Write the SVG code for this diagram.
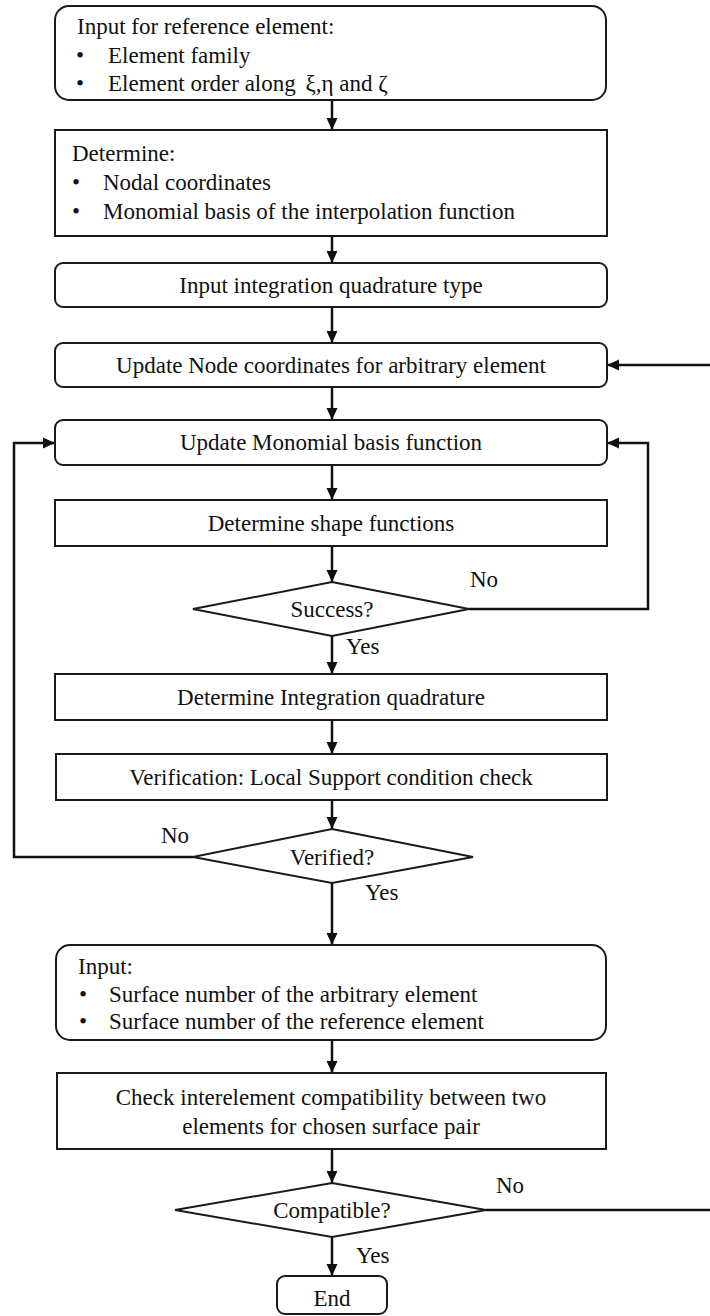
<svg xmlns="http://www.w3.org/2000/svg" width="710" height="1316" viewBox="0 0 710 1316">
<style>
  .box{fill:#fff;stroke:#1a1a1a;stroke-width:2}
  .t{font-family:"Liberation Serif","Times New Roman",serif;font-size:23px;fill:#111}
  .c{text-anchor:middle}
  .ln{fill:none;stroke:#111;stroke-width:2.5}
</style>
<defs>
  <marker id="ah" markerUnits="userSpaceOnUse" markerWidth="12" markerHeight="12" refX="12" refY="6" orient="auto">
    <path d="M0,0.5 L12,6 L0,11.5 Z" fill="#111"/>
  </marker>
</defs>
<rect width="710" height="1316" fill="#fff"/>

<g id="connectors">
  <line class="ln" x1="332" y1="100" x2="332" y2="130" marker-end="url(#ah)"/>
  <line class="ln" x1="332" y1="236" x2="332" y2="263" marker-end="url(#ah)"/>
  <line class="ln" x1="332" y1="307" x2="332" y2="343" marker-end="url(#ah)"/>
  <line class="ln" x1="332" y1="387" x2="332" y2="420" marker-end="url(#ah)"/>
  <line class="ln" x1="332" y1="465" x2="332" y2="500" marker-end="url(#ah)"/>
  <line class="ln" x1="332" y1="546" x2="332" y2="582" marker-end="url(#ah)"/>
  <line class="ln" x1="332" y1="636" x2="332" y2="674" marker-end="url(#ah)"/>
  <line class="ln" x1="332" y1="720" x2="332" y2="754" marker-end="url(#ah)"/>
  <line class="ln" x1="332" y1="800" x2="332" y2="829" marker-end="url(#ah)"/>
  <line class="ln" x1="332" y1="883" x2="332" y2="945" marker-end="url(#ah)"/>
  <line class="ln" x1="332" y1="1040" x2="332" y2="1073" marker-end="url(#ah)"/>
  <line class="ln" x1="332" y1="1149" x2="332" y2="1183" marker-end="url(#ah)"/>
  <line class="ln" x1="332" y1="1237" x2="332" y2="1276" marker-end="url(#ah)"/>
  <polyline class="ln" points="469,609 648,609 648,443 607,443" marker-end="url(#ah)"/>
  <polyline class="ln" points="193,857 14,857 14,443 55,443" marker-end="url(#ah)"/>
  <line class="ln" x1="486" y1="1210" x2="712" y2="1210"/>
  <line class="ln" x1="712" y1="365" x2="607" y2="365" marker-end="url(#ah)"/>
  <text class="t" x="470" y="587">No</text>
  <text class="t" x="346" y="654">Yes</text>
  <text class="t" x="161" y="843">No</text>
  <text class="t" x="365" y="900">Yes</text>
  <text class="t" x="496" y="1193">No</text>
  <text class="t" x="356" y="1263">Yes</text>
</g>

<g id="n1">
  <rect class="box" x="55" y="6" width="551" height="94" rx="14"/>
  <text class="t" x="77" y="34">Input for reference element:</text>
  <text class="t" x="76" y="63">•</text>
  <text class="t" x="108" y="63">Element family</text>
  <text class="t" x="76" y="91">•</text>
  <text class="t" x="108" y="91">Element order along <tspan dx="4">ξ,η</tspan> and ζ</text>
</g>

<g id="n2">
  <rect class="box" x="55" y="130" width="552" height="106"/>
  <text class="t" x="72" y="161">Determine:</text>
  <text class="t" x="72" y="190">•</text>
  <text class="t" x="103" y="190">Nodal coordinates</text>
  <text class="t" x="72" y="219">•</text>
  <text class="t" x="103" y="219">Monomial basis of the interpolation function</text>
</g>

<g id="n3">
  <rect class="box" x="55" y="263" width="552" height="44" rx="8"/>
  <text class="t c" x="331" y="293">Input integration quadrature type</text>
</g>

<g id="n4">
  <rect class="box" x="55" y="343" width="552" height="44" rx="8"/>
  <text class="t c" x="331" y="373">Update Node coordinates for arbitrary element</text>
</g>

<g id="n5">
  <rect class="box" x="55" y="420" width="552" height="45" rx="8"/>
  <text class="t c" x="331" y="450">Update Monomial basis function</text>
</g>

<g id="n6">
  <rect class="box" x="55" y="500" width="552" height="46"/>
  <text class="t c" x="331" y="531">Determine shape functions</text>
</g>

<g id="d1">
  <polygon class="box" points="332,582 469,609 332,636 193,609"/>
  <text class="t c" x="332" y="617">Success?</text>
</g>

<g id="n7">
  <rect class="box" x="55" y="674" width="552" height="46"/>
  <text class="t c" x="331" y="705">Determine Integration quadrature</text>
</g>

<g id="n8">
  <rect class="box" x="56" y="754" width="551" height="46"/>
  <text class="t c" x="331" y="785">Verification: Local Support condition check</text>
</g>

<g id="d2">
  <polygon class="box" points="332,829 473,857 332,883 193,857"/>
  <text class="t c" x="332" y="865">Verified?</text>
</g>

<g id="n9">
  <rect class="box" x="56" y="945" width="550" height="95" rx="14"/>
  <text class="t" x="78" y="974">Input:</text>
  <text class="t" x="79" y="1002">•</text>
  <text class="t" x="109" y="1002">Surface number of the arbitrary element</text>
  <text class="t" x="79" y="1029">•</text>
  <text class="t" x="109" y="1029">Surface number of the reference element</text>
</g>

<g id="n10">
  <rect class="box" x="57" y="1073" width="549" height="76"/>
  <text class="t c" x="331" y="1105">Check interelement compatibility between two</text>
  <text class="t c" x="331" y="1134">elements for chosen surface pair</text>
</g>

<g id="d3">
  <polygon class="box" points="332,1183 486,1210 332,1237 175,1210"/>
  <text class="t c" x="332" y="1218">Compatible?</text>
</g>

<g id="n11">
  <rect class="box" x="277" y="1276" width="110" height="38" rx="8"/>
  <text class="t c" x="332" y="1306">End</text>
</g>
</svg>
